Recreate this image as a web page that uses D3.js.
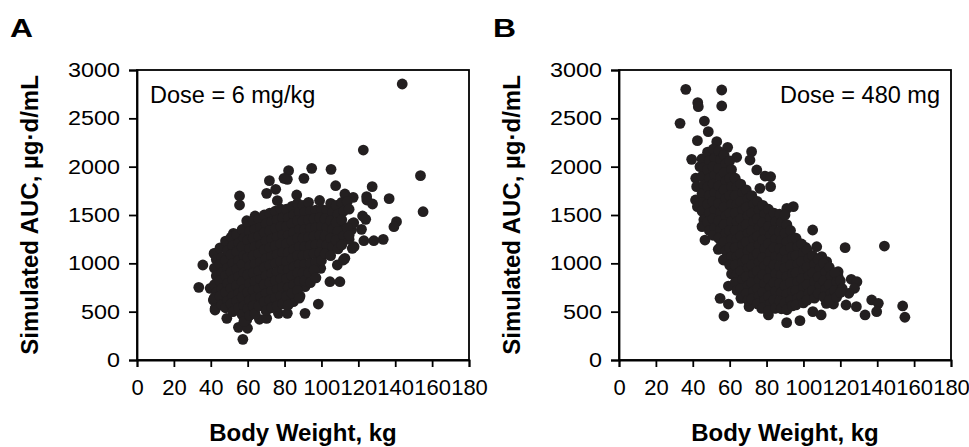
<!DOCTYPE html>
<html><head><meta charset="utf-8">
<script src="https://cdn.jsdelivr.net/npm/d3@7"></script>
<style>
body{margin:0;background:#fff}
svg{display:block}
text{font-family:"Liberation Sans",Arial,Helvetica,sans-serif;fill:#000}
</style>
</head><body>
<svg id="chart" width="969" height="447"></svg>
<script>
// ---- data ----
const xTickValues = [0,20,40,60,80,100,120,140,160,180];
const yTickValues = [0,500,1000,1500,2000,2500,3000];
const panelLetters = ["A","B"];
const doseLabels = ["Dose = 6 mg/kg","Dose = 480 mg"];
const xAxisTitle = "Body Weight, kg";
const yAxisTitle = "Simulated AUC, \u00b5g\u00b7d/mL";

// Panel A: [body weight kg, AUC]
const pointsA = [
[143.8,2855],[122.7,2172],[153.7,1907],[155.1,1534],[136.7,1669],[140.7,1431],[139.3,1379],[133.5,1248],[128.4,1234],[123,1234],
[127.5,1793],[124.6,1655],[127.7,1614],[122.3,1490],[124,1455],[121.7,1352],[116.3,1345],[117.5,1420],[112.7,1717],[117.2,1683],
[115,1248],[116.7,1155],[112.7,1052],[108.6,983],[104.6,810],[110,810],[105.2,1972],[107.7,1803],[94.7,1983],[90.5,1879],
[82.2,1959],[81.5,1869],[79.7,1879],[71.8,1855],[70.3,1724],[75.2,1766],[76.1,1648],[86.6,1707],[55.6,1697],[55.6,1603],
[59.5,1441],[64,1490],[35.7,983],[33.5,752],[39.7,741],[41.8,638],[42.4,534],[48.7,431],[55,338],[59.9,328],
[57.4,214],[59.5,414],[66.4,421],[70.3,431],[76.7,483],[81.5,483],[91.1,483],[98.3,579],[95.1,914],[99.6,948],
[91.1,759],[84.8,603],[88.4,662],[41.8,1103],[42.9,948],[45,834],[48.3,1207],[52.3,1310],[111.9,1362],[116.9,1414],
[117.7,1172],[111.9,1034],[42.3,517],[41.4,620],[124.5,1690],
[42,1100],[43,1040],[42,950],[43,870],[42,780],[43,700],[42,640],
[45,1160],[46,1060],[45,990],[46,900],[45,820],[46,740],[45,660],[46,570],
[48,1230],[49,1130],[48,1030],[49,950],[48,870],[49,790],[48,700],[49,610],[48,540],
[51,1270],[52,1180],[51,1090],[52,1000],[51,910],[52,830],[51,740],[52,660],[51,580],[52,500],
[54,1300],[55,1210],[54,1120],[55,1030],[54,940],[55,860],[54,770],[55,690],[54,610],[55,540],
[57,1350],[58,1260],[57,1170],[58,1080],[57,990],[58,900],[57,810],[58,730],[57,650],[58,560],[57,470],[58,400],
[60,1420],[61,1330],[60,1240],[61,1150],[60,1060],[61,970],[60,880],[61,790],[60,700],[61,620],[60,530],[61,460],
[63,1440],[64,1350],[63,1260],[64,1170],[63,1080],[64,990],[63,900],[64,810],[63,720],[64,640],[63,560],[64,480],
[66,1460],[67,1370],[66,1280],[67,1190],[66,1100],[67,1010],[66,920],[67,830],[66,740],[67,650],[66,560],
[69,1500],[70,1410],[69,1320],[70,1230],[69,1140],[70,1050],[69,960],[70,870],[69,780],[70,690],[69,600],[70,510],
[72,1520],[73,1430],[72,1340],[73,1250],[72,1160],[73,1070],[72,980],[73,890],[72,800],[73,710],[72,620],[73,540],
[75,1540],[76,1450],[75,1360],[76,1270],[75,1180],[76,1090],[75,1000],[76,910],[75,820],[76,730],[75,640],[76,560],
[78,1560],[79,1470],[78,1380],[79,1290],[78,1200],[79,1110],[78,1020],[79,930],[78,840],[79,750],[78,660],[79,580],
[81,1560],[82,1470],[81,1380],[82,1290],[81,1200],[82,1110],[81,1020],[82,930],[81,840],[82,750],[81,660],[82,570],
[84,1590],[85,1500],[84,1410],[85,1320],[84,1230],[85,1140],[84,1050],[85,960],[84,870],[85,780],[84,690],
[87,1620],[88,1530],[87,1440],[88,1350],[87,1260],[88,1170],[87,1080],[88,990],[87,900],[88,810],[87,720],[88,640],
[90,1600],[91,1530],[90,1440],[91,1350],[90,1260],[91,1170],[90,1080],[91,990],[90,900],[91,820],
[93,1630],[94,1540],[93,1450],[94,1360],[93,1270],[94,1180],[93,1090],[94,1000],[93,900],[94,800],
[97,1550],[96,1460],[97,1370],[96,1280],[97,1190],[96,1100],[97,1010],[96,930],[97,850],
[99,1650],[100,1560],[99,1470],[100,1380],[99,1290],[100,1200],[99,1110],[100,1030],
[103,1550],[102,1460],[103,1370],[102,1280],[103,1190],[102,1100],
[105,1620],[106,1530],[105,1440],[106,1350],[105,1260],[106,1170],[105,1080],
[108,1600],[109,1510],[108,1420],[109,1330],[108,1240],[109,1150],
[111,1630],[112,1540],[111,1450],[112,1280],[111,1190],
[114,1640],[115,1560],[114,1370],[115,1290]
];

// Panel B: [body weight kg, AUC]
const pointsB = [
[36.2,2800],[55.7,2793],[55.7,2628],[42.7,2662],[43,2621],[33.1,2448],[46.3,2472],[48.4,2362],[42.5,2269],[39.4,2076],
[53,2259],[58.9,2200],[63.8,2097],[71.9,2155],[71,2069],[74.7,1966],[79.2,1903],[82.2,1896],[82.2,1793],[76.4,1776],
[41.6,1880],[42.1,1793],[43.9,2000],[41.5,1655],[42.5,1586],[94.5,1586],[91,1569],[105,1345],[107.2,1172],[122.6,1162],
[143.9,1179],[118.8,913],[118.8,862],[125.9,835],[129,810],[127.7,742],[124.6,690],[137,621],[140.6,586],[139.7,500],
[133.4,466],[128.7,552],[123.1,569],[116.3,579],[112.4,586],[109.6,466],[105.1,500],[98.1,407],[90.9,386],[153.8,559],
[155,442],[112.6,1017],[109.9,1069],[56.9,455],[54.8,638],[59.3,579],[59.3,765],[70.5,552],[81,466],[46.6,1241],
[53.8,1145],[56.6,1034],[66.1,638],[68.7,717],[77.4,534],[84.6,534],[101.2,1166],
[45,2080],[46,1990],[45,1900],[46,1810],[45,1720],[46,1630],[45,1540],[46,1450],[45,1380],
[48,2150],[49,2060],[48,1970],[49,1880],[48,1790],[49,1700],[48,1610],[49,1520],[48,1430],[49,1340],
[51,2180],[52,2090],[51,2000],[52,1910],[51,1820],[52,1730],[51,1640],[52,1550],[51,1460],[52,1370],[51,1290],
[54,2160],[55,2070],[54,1980],[55,1890],[54,1800],[55,1710],[54,1620],[55,1530],[54,1440],[55,1350],[54,1260],[55,1170],
[57,2120],[58,2030],[57,1940],[58,1850],[57,1760],[58,1670],[57,1580],[58,1490],[57,1400],[58,1310],[57,1220],[58,1130],[57,1040],
[60,2060],[61,1970],[60,1880],[61,1790],[60,1700],[61,1610],[60,1520],[61,1430],[60,1340],[61,1250],[60,1160],[61,1070],[60,980],[61,890],
[63,1880],[64,1790],[63,1700],[64,1610],[63,1520],[64,1430],[63,1340],[64,1250],[63,1160],[64,1070],[63,980],[64,890],[63,800],[64,720],
[66,1820],[67,1730],[66,1640],[67,1550],[66,1460],[67,1370],[66,1280],[67,1190],[66,1100],[67,1010],[66,920],[67,830],[66,740],[67,660],
[69,1760],[70,1670],[69,1580],[70,1490],[69,1400],[70,1310],[69,1220],[70,1130],[69,1040],[70,950],[69,860],[70,770],[69,690],[70,620],
[72,1700],[73,1610],[72,1520],[73,1430],[72,1340],[73,1250],[72,1160],[73,1070],[72,980],[73,890],[72,800],[73,710],[72,630],
[75,1640],[76,1550],[75,1460],[76,1370],[75,1280],[76,1190],[75,1100],[76,1010],[75,920],[76,830],[75,740],[76,660],[75,580],
[78,1600],[79,1510],[78,1420],[79,1330],[78,1240],[79,1150],[78,1060],[79,970],[78,880],[79,790],[78,700],[79,620],[78,540],
[81,1560],[82,1470],[81,1380],[82,1290],[81,1200],[82,1110],[81,1020],[82,930],[81,840],[82,750],[81,660],[82,580],[81,510],
[84,1520],[85,1430],[84,1340],[85,1250],[84,1160],[85,1070],[84,980],[85,890],[84,800],[85,710],[84,620],[85,540],
[87,1510],[88,1420],[87,1330],[88,1240],[87,1150],[88,1060],[87,970],[88,880],[87,790],[88,700],[87,610],[88,530],
[90,1500],[91,1400],[90,1310],[91,1220],[90,1130],[91,1040],[90,950],[91,860],[90,770],[91,680],[90,590],[91,520],
[93,1340],[94,1250],[93,1160],[94,1070],[93,980],[94,890],[93,800],[94,710],[93,620],[94,560],
[96,1260],[97,1170],[96,1080],[97,990],[96,900],[97,810],[96,720],[97,640],[96,570],
[99,1200],[100,1110],[99,1020],[100,930],[99,840],[100,750],[99,660],[100,590],
[102,1140],[103,1050],[102,960],[103,870],[102,780],[103,690],[102,620],
[105,1080],[106,990],[105,900],[106,810],[105,720],[106,640],
[108,1040],[109,950],[108,860],[109,770],[108,690],
[111,1000],[112,910],[111,820],[112,730],[111,650],
[114,960],[115,870],[114,780],[115,690],[114,620],
[117,900],[118,810],[117,720],[118,650],
[120,820],[121,740],[120,700]
];

// ---- drawing ----
const svg = d3.select("#chart");
const plotTop = 70, plotBottom = 360;
const panels = [
  {left:137, right:469, letterX:10, yTitleX:38, pts:pointsA, dose:doseLabels[0], doseX:150, anchor:"start", letter:panelLetters[0]},
  {left:619, right:951, letterX:493, yTitleX:520, pts:pointsB, dose:doseLabels[1], doseX:940, anchor:"end", letter:panelLetters[1]}
];
const fontStack = '"Liberation Sans",Arial,Helvetica,sans-serif';

panels.forEach(p => {
  const x = d3.scaleLinear().domain([0,180]).range([p.left,p.right]);
  const y = d3.scaleLinear().domain([0,3000]).range([plotBottom,plotTop]);
  const g = svg.append("g");

  g.append("rect").attr("x",p.left).attr("y",plotTop)
    .attr("width",p.right-p.left).attr("height",plotBottom-plotTop)
    .attr("fill","none").attr("stroke","#000").attr("stroke-width",1.8);

  g.append("g").selectAll("circle").data(p.pts).join("circle")
    .attr("cx",d=>x(d[0])).attr("cy",d=>y(d[1])).attr("r",5.4)
    .attr("fill","#231f20");

  const xAxis = g.append("g").attr("transform",`translate(0,${plotBottom})`)
    .call(d3.axisBottom(x).tickValues(xTickValues).tickFormat(d3.format("d"))
      .tickSizeOuter(0).tickSize(7).tickPadding(12));
  xAxis.selectAll("text").attr("font-size",22).style("font-family",fontStack).attr("fill","#000");
  const yAxis = g.append("g").attr("transform",`translate(${p.left},0)`)
    .call(d3.axisLeft(y).tickValues(yTickValues).tickFormat(d3.format("d"))
      .tickSizeOuter(0).tickSize(8).tickPadding(9));
  yAxis.selectAll("text").attr("font-size",20.5).style("font-family",fontStack).attr("fill","#000")
    .attr("textLength",d=>String(d).length*13).attr("lengthAdjust","spacingAndGlyphs");
  [xAxis,yAxis].forEach(a=>{
    a.selectAll("path,line").attr("stroke","#000").attr("stroke-width",1.8);
  });

  g.append("text").attr("x",p.doseX).attr("y",103).attr("text-anchor",p.anchor)
    .attr("font-size",23.5).text(p.dose);

  g.append("text").attr("x",p.letterX).attr("y",37).attr("font-size",25).attr("font-weight","bold")
    .attr("textLength",23).attr("lengthAdjust","spacingAndGlyphs").text(p.letter);

  g.append("text").attr("transform",`translate(${p.yTitleX},${(plotTop+plotBottom)/2}) rotate(-90)`)
    .attr("text-anchor","middle").attr("font-size",24).attr("font-weight","bold").text(yAxisTitle);

  g.append("text").attr("x",(p.left+p.right)/2).attr("y",441).attr("text-anchor","middle")
    .attr("font-size",24).attr("font-weight","bold").text(xAxisTitle);
});
</script>
</body></html>
